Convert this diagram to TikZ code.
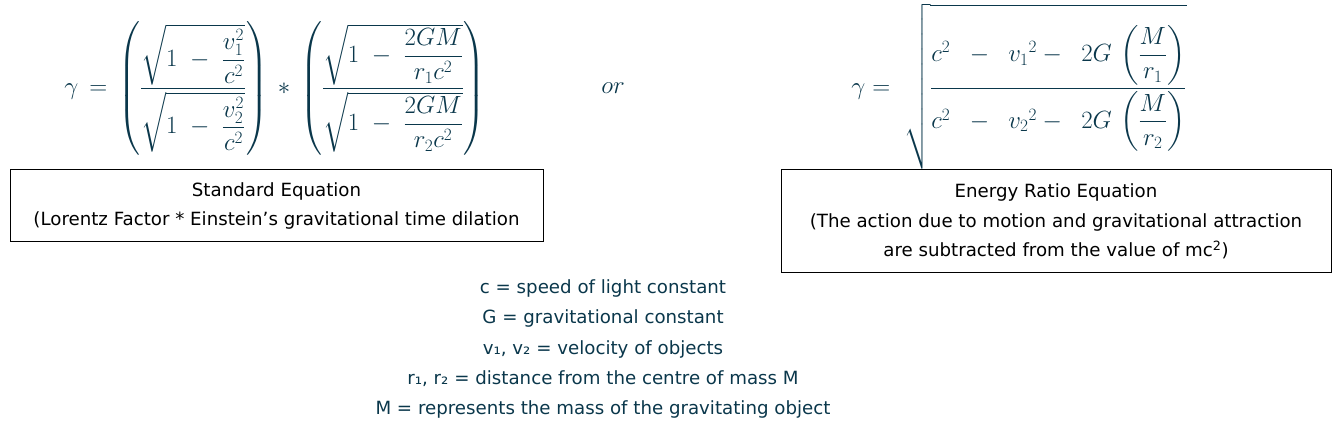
\documentclass[tikz,border=0pt]{standalone}
\usepackage{amsmath}
\usepackage[no-math]{fontspec}
\setmainfont{DejaVu Sans}
\usepackage{tikz}
\definecolor{eqteal}{RGB}{10,55,75}

\begin{document}
\begin{tikzpicture}[x=1pt, y=-1pt,
  caption/.style={draw, rectangle, line width=1pt, align=center, inner sep=0pt,
    font=\fontsize{18.2}{29.5}\selectfont},
  legend/.style={align=center, text=eqteal, font=\fontsize{18.2}{30.2}\selectfont},
  formula/.style={text=eqteal, inner sep=0pt, font=\fontsize{26.5}{30}\selectfont}]
\useasboundingbox (0,0) rectangle (1341,430);
% the two equations
\node[formula] (standard) at (275,88.5)
  {$\gamma\,=\,\left(\dfrac{\sqrt{1\;-\;\dfrac{v_1^2}{c^2}}}{\sqrt{1\;-\;\dfrac{v_2^2}{c^2}}}\right)\,*\,\left(\dfrac{\sqrt{1\;-\;\dfrac{2GM}{r_1c^2}}}{\sqrt{1\;-\;\dfrac{2GM}{r_2c^2}}}\right)$};
\node[formula] (or) at (613,88) {$or$};
\node[formula] (ratio) at (1019,86.5)
  {$\gamma = \;\sqrt{\dfrac{\rule{0pt}{2em}c^2\;\;-\;\;{v_1}^2-\;\;2G\,\left(\dfrac{M}{r_1}\right)}{\rule[-1.5em]{0pt}{1.5em}c^2\;\;-\;\;{v_2}^2-\;\;2G\,\left(\dfrac{M}{r_2}\right)}}$};
% captions
\node[caption, minimum width=533pt, minimum height=72pt] (standardbox) at (276.5,206)
  {Standard Equation\\(Lorentz Factor * Einstein’s gravitational time dilation};
\node[caption, minimum width=550pt, minimum height=103pt] (ratiobox) at (1056,221.5)
  {Energy Ratio Equation\\(The action due to motion and gravitational attraction\\are subtracted from the value of mc\textsuperscript{2})};
% symbols
\node[legend] (symbols) at (603,349)
  {c = speed of light constant\\G = gravitational constant\\v₁, v₂ = velocity of objects\\r₁, r₂ = distance from the centre of mass M\\M = represents the mass of the gravitating object};
\end{tikzpicture}
\end{document}
